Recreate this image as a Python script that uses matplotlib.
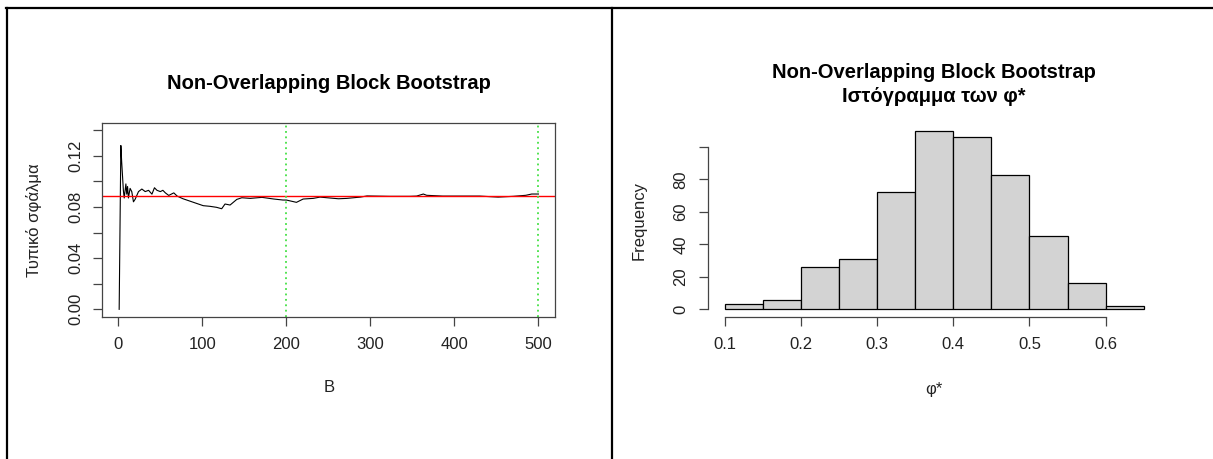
import matplotlib

matplotlib.use("Agg")
import matplotlib.pyplot as plt
from matplotlib.lines import Line2D

plt.rcParams["font.family"] = ["Liberation Sans", "DejaVu Sans"]

W, H = 1213, 459

# running bootstrap standard error
b_values = [1, 2, 3, 4, 5, 6, 7, 9, 10, 11, 12, 14, 16, 18, 20, 22, 24, 26, 28,
            32, 36, 40, 43, 46, 50, 53, 56, 60, 66, 70, 77, 85, 93, 101, 109,
            117, 123, 127, 133, 141, 147, 157, 171, 185, 196, 200, 212, 220,
            232, 240, 262, 272, 288, 296, 323, 347, 355, 363, 367, 386, 403,
            430, 452, 470, 485, 492, 500]
se_values = [0.0, 0.064, 0.128, 0.115, 0.104, 0.093, 0.087, 0.098, 0.090,
             0.096, 0.087, 0.0945, 0.092, 0.084, 0.086, 0.089, 0.092, 0.093,
             0.094, 0.092, 0.093, 0.090, 0.095, 0.093, 0.092, 0.093, 0.091,
             0.089, 0.091, 0.0885, 0.0864, 0.0846, 0.0828, 0.0810, 0.0805,
             0.0797, 0.0786, 0.0823, 0.0815, 0.0859, 0.0872, 0.0867, 0.0875,
             0.0862, 0.0854, 0.0854, 0.0836, 0.0862, 0.0867, 0.0877, 0.0864,
             0.0867, 0.0877, 0.0886, 0.0883, 0.0883, 0.0885, 0.0901, 0.0891,
             0.0885, 0.0885, 0.0885, 0.0877, 0.0883, 0.0891, 0.0901, 0.0901]
se_final = 0.0889
b_marks = [200, 500]

# histogram of phi*
bin_edges = [0.10, 0.15, 0.20, 0.25, 0.30, 0.35, 0.40, 0.45, 0.50, 0.55, 0.60, 0.65]
counts = [3, 6, 26, 31, 72, 110, 106, 83, 45, 16, 2]

AX_COL = "#444444"
TXT_COL = "#222222"


def px_axes(fig, left, top, right, bottom):
    return fig.add_axes([left / W, 1 - bottom / H, (right - left) / W, (bottom - top) / H])


def style_ticks(ax):
    ax.tick_params(axis="both", length=6.5, width=0.9, color=AX_COL,
                   labelsize=12, labelcolor=TXT_COL)
    ax.tick_params(axis="x", pad=8.5)
    ax.tick_params(axis="y", pad=7.5, labelrotation=90)
    for lab in ax.get_yticklabels():
        lab.set_va("center")


fig = plt.figure(figsize=(W / 100, H / 100), dpi=100)

# table borders around the two cells
for xs, ys in [((6, W), (7.5, 7.5)), ((7, 7), (7.5, H)), ((612, 612), (7.5, H))]:
    fig.add_artist(Line2D([x / W for x in xs], [1 - y / H for y in ys],
                          transform=fig.transFigure, color="black", linewidth=1.6))

# left: standard error vs B
ax1 = px_axes(fig, 102.4, 123, 555.2, 316.5)
ax1.plot(b_values, se_values, color="black", linewidth=0.8)
ax1.axhline(se_final, color="#FF0000", linewidth=1.0)
for b in b_marks:
    ax1.axvline(b, color="#44E044", linewidth=1.3, linestyle=(0, (1, 2)))
ax1.set_xlim(1 - 0.04 * 499, 500 + 0.04 * 499)
ax1.set_ylim(-0.04 * 0.14, 0.14 * 1.04)
ax1.set_xticks([0, 100, 200, 300, 400, 500])
yt = [0.0, 0.02, 0.04, 0.06, 0.08, 0.10, 0.12, 0.14]
ax1.set_yticks(yt)
ax1.set_yticklabels(["0.00", "", "0.04", "", "0.08", "", "0.12", ""])
for s in ax1.spines.values():
    s.set_color(AX_COL)
    s.set_linewidth(0.9)
style_ticks(ax1)
ax1.set_xlabel("B", fontsize=12, color=TXT_COL, va="center")
ax1.xaxis.set_label_coords(0.5, -0.367)
ax1.set_ylabel("Τυπικό σφάλμα", fontsize=12, color=TXT_COL, va="center")
ax1.yaxis.set_label_coords(-0.151, 0.5)
fig.text((102.4 + 555.2) / 2 / W, 1 - 89 / H, "Non-Overlapping Block Bootstrap",
         ha="center", va="baseline", fontsize=14.5, fontweight="bold", color="black")

# right: histogram
ax2 = px_axes(fig, 708, 123.6, 1160.5, 316.5)
ax2.bar(bin_edges[:-1], counts, width=[r - l for l, r in zip(bin_edges[:-1], bin_edges[1:])],
        align="edge", color="#D3D3D3", edgecolor="black", linewidth=0.9)
span = bin_edges[-1] - bin_edges[0]
ax2.set_xlim(bin_edges[0] - 0.04 * span, bin_edges[-1] + 0.04 * span)
ax2.set_ylim(-0.04 * max(counts), max(counts) * 1.04)
ax2.set_xticks([0.1, 0.2, 0.3, 0.4, 0.5, 0.6])
ax2.set_xticklabels(["0.1", "0.2", "0.3", "0.4", "0.5", "0.6"])
ax2.set_yticks([0, 20, 40, 60, 80, 100])
ax2.set_yticklabels(["0", "20", "40", "60", "80", ""])
for side in ["top", "right"]:
    ax2.spines[side].set_visible(False)
ax2.spines["bottom"].set_bounds(0.1, 0.6)
ax2.spines["left"].set_bounds(0, 100)
for side in ["bottom", "left"]:
    ax2.spines[side].set_color(AX_COL)
    ax2.spines[side].set_linewidth(0.9)
style_ticks(ax2)
ax2.set_xlabel("φ*", fontsize=12, color=TXT_COL, va="center")
ax2.xaxis.set_label_coords(0.5, -0.381)
ax2.set_ylabel("Frequency", fontsize=12, color=TXT_COL, va="center")
ax2.yaxis.set_label_coords(-0.153, 0.5)
cx = (708 + 1160.5) / 2 / W
fig.text(cx, 1 - 77.5 / H, "Non-Overlapping Block Bootstrap",
         ha="center", va="baseline", fontsize=14.5, fontweight="bold", color="black")
fig.text(cx, 1 - 102.5 / H, "Ιστόγραμμα των φ*",
         ha="center", va="baseline", fontsize=14.5, fontweight="bold", color="black")

fig.savefig("out.png", dpi=100)
